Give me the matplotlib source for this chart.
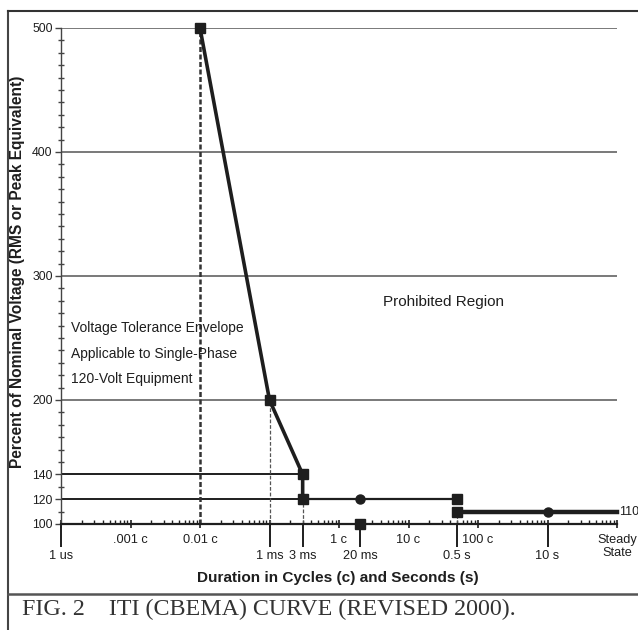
import numpy as np
import matplotlib
matplotlib.use("Agg")
import matplotlib.pyplot as plt
from matplotlib.ticker import LogLocator, FixedLocator, NullFormatter, FixedFormatter
from matplotlib.lines import Line2D

# chart units: log axis, one decade per label step (1 ms drawn at 0.1, 3 ms at 0.3 ...)
decade_pos = [1e-4, 1e-3, 1e-2, 1e-1, 1, 10, 100, 1e3, 1e4]
decade_labels = ["", ".001 c", "0.01 c", "", "1 c", "10 c", "100 c", "", "Steady\nState"]
time_pos = [1e-4, 0.1, 0.3, 2, 50, 1e3]
time_labels = ["1 us", "1 ms", "3 ms", "20 ms", "0.5 s", "10 s"]

y_major = [100, 120, 140, 200, 300, 400, 500]
grid_levels = [200, 300, 400, 500]

# upper envelope
steep_x = [0.01, 0.1, 0.3, 0.3]
steep_y = [500, 200, 140, 120]
flat120_x = [0.3, 50]
flat120_y = [120, 120]
flat110_x = [50, 1e4]
flat110_y = [110, 110]
square_x = [0.01, 0.1, 0.3, 0.3, 50, 50]
square_y = [500, 200, 140, 120, 120, 110]
round_x = [2, 1000]
round_y = [120, 110]
axis_mark_x = [2]
axis_mark_y = [100]

# dashed drop lines
drop_x = [0.01, 0.1, 0.3, 50]
drop_top = [500, 200, 120, 110]

note_lines = ["Voltage Tolerance Envelope", "Applicable to Single-Phase", "120-Volt Equipment"]
note_y = [258, 237, 217]

ink = "#1e1e1e"
plt.rcParams['font.family'] = ['Liberation Sans', 'DejaVu Sans']

fig = plt.figure(figsize=(6.38, 6.30), dpi=100)
fig.patch.set_facecolor('white')
ax = fig.add_axes([61/638, 1-524/630, 556/638, 496/630])
ax.set_xscale('log')
ax.set_xlim(1e-4, 1e4)
ax.set_ylim(100, 500)

# grid lines
ax.hlines(grid_levels, 1e-4, 1e4, color='#6e6e6e', lw=1.3, zorder=1)
ax.hlines([140], 1e-4, 0.3, color=ink, lw=1.4, zorder=2)
ax.hlines([120], 1e-4, 0.3, color=ink, lw=1.4, zorder=2)

# drop lines
ax.vlines(drop_x[0], 100, drop_top[0], color='#333333', lw=1.8, linestyles=(0, (2, 1)), zorder=2)
ax.vlines(drop_x[1:], 100, drop_top[1:], color='#555555', lw=0.9, linestyles=(0, (3, 1.5)), zorder=2)

# envelope
ax.plot(steep_x, steep_y, color=ink, lw=2.6, zorder=4, clip_on=False)
ax.plot(flat120_x, flat120_y, color=ink, lw=1.6, zorder=4)
ax.plot(flat110_x, flat110_y, color=ink, lw=3.2, zorder=4, clip_on=False)
ax.plot(square_x, square_y, 's', color=ink, ms=6.5, zorder=5, clip_on=False)
ax.plot(round_x, round_y, 'o', color=ink, ms=6.5, zorder=5, clip_on=False)
ax.plot(axis_mark_x, axis_mark_y, 's', color=ink, ms=7, zorder=5, clip_on=False)
ax.text(1.08e4, 110, "110", fontsize=9, color=ink, va='center', ha='left')

# spines
for s in ['top', 'right']:
    ax.spines[s].set_visible(False)
ax.spines['left'].set_color('#444444')
ax.spines['left'].set_linewidth(1.0)
ax.spines['bottom'].set_color(ink)
ax.spines['bottom'].set_linewidth(1.6)

# y ticks
ax.yaxis.set_major_locator(FixedLocator(y_major))
ax.yaxis.set_minor_locator(FixedLocator(np.arange(100, 501, 10)))
ax.tick_params(axis='y', which='major', direction='out', length=4, width=1,
               labelsize=8.8, labelcolor=ink, color='#444444', pad=2)
ax.tick_params(axis='y', which='minor', direction='inout', length=5, width=1, color='#444444')

# x ticks: decades + log minors
ax.xaxis.set_major_locator(FixedLocator(decade_pos))
ax.xaxis.set_major_formatter(FixedFormatter(decade_labels))
ax.xaxis.set_minor_locator(LogLocator(base=10, subs=np.arange(2, 10), numticks=20))
ax.xaxis.set_minor_formatter(NullFormatter())
ax.tick_params(axis='x', which='major', direction='inout', length=6, width=1.2,
               labelsize=9.2, labelcolor=ink, color=ink, pad=4.5)
ax.tick_params(axis='x', which='minor', direction='in', length=3, width=1, color=ink)
for lab in ax.get_xticklabels():
    lab.set_linespacing(1.05)

# long ticks with time labels
sec = ax.secondary_xaxis('bottom')
sec.set_xticks(time_pos)
sec.set_xticklabels(time_labels)
sec.xaxis.set_minor_locator(FixedLocator([]))
sec.spines['bottom'].set_visible(False)
sec.tick_params(axis='x', which='major', direction='out', length=16.5, width=1.4,
                labelsize=9.2, labelcolor=ink, color=ink, pad=2.5)

# annotations
for txt, yv in zip(note_lines, note_y):
    ax.text(1.38e-4, yv, txt, fontsize=10, color=ink, va='center')
ax.text(4.3, 279, "Prohibited Region", fontsize=11, color=ink, va='center')

fig.text(18/638, 1-272/630, "Percent of Nominal Voltage (RMS or Peak Equivalent)",
         rotation=90, ha='center', va='center', fontsize=11.2, fontweight='bold', color=ink)
fig.text(338/638, 1-578/630, "Duration in Cycles (c) and Seconds (s)",
         ha='center', va='center', fontsize=11.1, fontweight='bold', color=ink)

# frame and caption
fig.add_artist(Line2D([8/638, 8/638], [0, 1-11/630], color='#444444', lw=1.5))
fig.add_artist(Line2D([8/638, 1], [1-11/630, 1-11/630], color='#333333', lw=1.5))
fig.add_artist(Line2D([8/638, 1], [1-594/630, 1-594/630], color='#555555', lw=1.8))
fig.text(22/638, 1-615.5/630, "FIG. 2    ITI (CBEMA) CURVE (REVISED 2000).",
         family='Liberation Serif', fontsize=17.3, color='#333333', va='baseline', ha='left')

fig.savefig("out.png", dpi=100)
